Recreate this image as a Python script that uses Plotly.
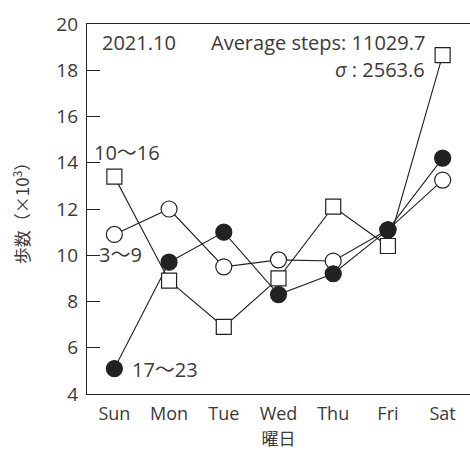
import plotly.graph_objects as go

# Daily average step counts (×10³) by time band, October 2021
days = ["Sun", "Mon", "Tue", "Wed", "Thu", "Fri", "Sat"]
band_10_16 = [13.4, 8.9, 6.9, 9.0, 12.1, 10.4, 18.65]
band_3_9 = [10.9, 12.0, 9.5, 9.8, 9.75, 11.1, 13.25]
band_17_23 = [5.1, 9.7, 11.0, 8.3, 9.2, 11.1, 14.2]
y_ticks = [4, 6, 8, 10, 12, 14, 16, 18, 20]

FONT = "Open Sans, Noto Sans CJK JP"
CJK = "Noto Sans CJK JP"
INK = "#222222"
TEXT = "#3a3a3a"

series = [
    (band_10_16, "square", "white", 15),
    (band_3_9, "circle", "white", 16),
    (band_17_23, "circle", INK, 16),
]

fig = go.Figure()

# connecting lines first so every marker sits on top of them
for vals, _, _, _ in series:
    fig.add_trace(go.Scatter(x=days, y=vals, mode="lines",
                             line=dict(color=INK, width=1.1),
                             hoverinfo="skip", showlegend=False))

for vals, sym, fill, size in series:
    fig.add_trace(go.Scatter(x=days, y=vals, mode="markers",
                             marker=dict(symbol=sym, size=size, color=fill,
                                         line=dict(color=INK, width=1.2)),
                             showlegend=False))

annotations = [
    dict(x=0.034, y=19.22, text="2021.10", xanchor="left"),
    dict(x=0.888, y=19.22, text="Average steps: 11029.7", xanchor="right"),
    dict(x=0.888, y=18.05, text="<i>σ</i> : 2563.6", xanchor="right"),
    dict(x=0.012, y=14.46, text="10～16", xanchor="left"),
    dict(x=0.026, y=10.05, text="3～9", xanchor="left"),
    dict(x=0.112, y=5.08, text="17～23", xanchor="left"),
]
for a in annotations:
    a.update(xref="paper", yref="y", showarrow=False,
             font=dict(family=FONT, size=20, color=TEXT))

fig.update_layout(
    width=470, height=452,
    margin=dict(l=87, r=0, t=24, b=58),
    paper_bgcolor="white", plot_bgcolor="white",
    font=dict(family=FONT, size=18, color=TEXT),
    annotations=annotations,
    xaxis=dict(
        range=[-0.5, 6.5], showgrid=False, zeroline=False,
        showline=True, linecolor=INK, linewidth=1.2, mirror=True,
        ticks="", tickfont=dict(size=18, color=TEXT), ticklabelstandoff=3,
        title=dict(text="曜日", font=dict(family=CJK, size=17, color=TEXT), standoff=3),
    ),
    yaxis=dict(
        range=[4, 20], tickvals=y_ticks, showgrid=False, zeroline=False,
        showline=True, linecolor=INK, linewidth=1.2,
        ticks="inside", ticklen=13, tickwidth=1.2, tickcolor=INK,
        tickfont=dict(size=19, color=TEXT), ticklabelstandoff=4,
        title=dict(text="歩数（×10<sup>3</sup>）", font=dict(family=CJK, size=17, color=TEXT),
                   standoff=22),
    ),
)

fig.write_html("out.html")
